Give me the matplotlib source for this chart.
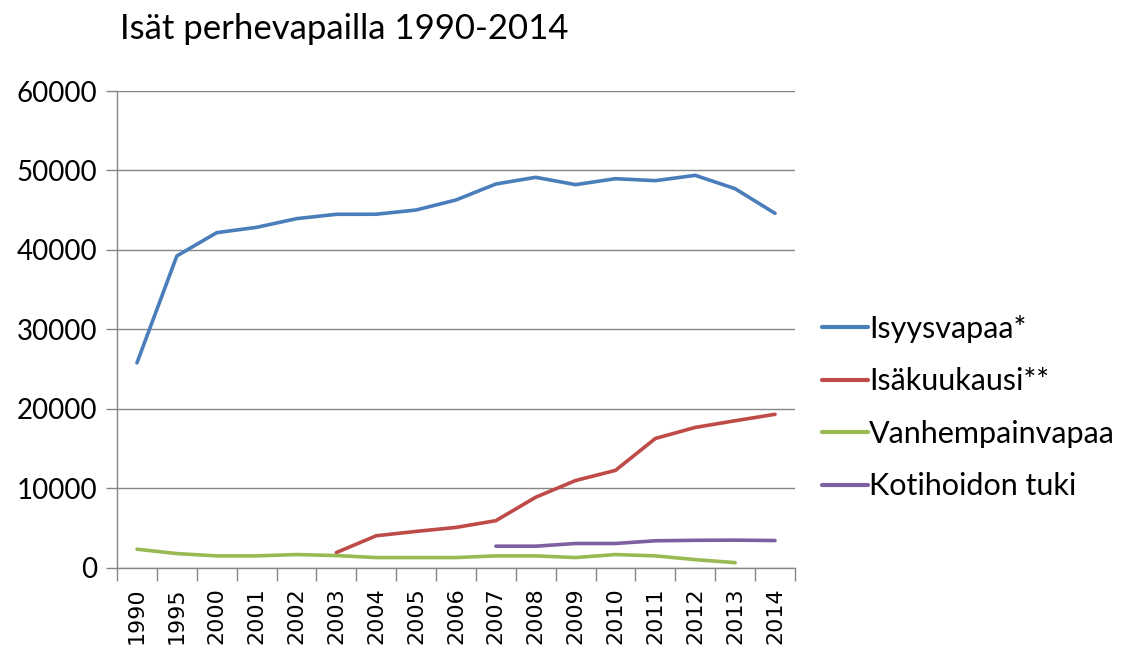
import matplotlib

matplotlib.use("Agg")
import matplotlib.pyplot as plt
import numpy as np

plt.rcParams.update({"font.family": ["Lato", "DejaVu Sans"]})

YEARS = ["1990", "1995", "2000", "2001", "2002", "2003", "2004", "2005", "2006",
         "2007", "2008", "2009", "2010", "2011", "2012", "2013", "2014"]

# Readings; None where a series has no value.
ISYYSVAPAA = [25800, 39250, 42180, 42850, 43940, 44490, 44500, 45030, 46290,
              48300, 49140, 48220, 48970, 48720, 49390, 47710, 44610]
ISAKUUKAUSI = [None, None, None, None, None, 1940, 4050, 4600, 5100,
               5950, 8900, 11000, 12280, 16290, 17680, 18520, 19330]
VANHEMPAINVAPAA = [2360, 1810, 1520, 1520, 1690, 1560, 1310, 1310, 1310,
                   1520, 1520, 1310, 1690, 1520, 1050, 670, None]
KOTIHOIDON_TUKI = [None, None, None, None, None, None, None, None, None,
                   2740, 2740, 3080, 3080, 3420, 3480, 3500, 3450]

SERIES = [
    ("Isyysvapaa*", ISYYSVAPAA, "#4A7EBB"),
    ("Isäkuukausi**", ISAKUUKAUSI, "#BE4B48"),
    ("Vanhempainvapaa", VANHEMPAINVAPAA, "#98B954"),
    ("Kotihoidon tuki", KOTIHOIDON_TUKI, "#7D60A0"),
]

GRID = "#868686"

fig = plt.figure(figsize=(11.35, 6.5), dpi=100)
ax = fig.add_axes([0.1031, 0.1262, 0.7004 - 0.1031, 0.86 - 0.1262])

x = np.arange(len(YEARS))
for label, vals, colour in SERIES:
    y = np.array([np.nan if v is None else v for v in vals], dtype=float)
    ax.plot(x, y, color=colour, linewidth=2.6, label=label,
            solid_capstyle="round")

ax.set_xlim(-0.5, len(YEARS) - 0.5)
ax.set_ylim(0, 60000)
ax.set_yticks(range(0, 60001, 10000))
ax.grid(axis="y", color=GRID, linewidth=1)
ax.set_axisbelow(True)

ax.set_xticks(x)
ax.set_xticklabels(YEARS, rotation=90, fontsize=16, family="DejaVu Sans")
ax.set_xticks(np.arange(-0.5, len(YEARS), 1.0), minor=True)
ax.tick_params(axis="x", which="major", length=0, pad=14)
ax.tick_params(axis="x", which="minor", length=9, color=GRID, width=1)
ax.tick_params(axis="y", length=8, color=GRID, width=1, labelsize=20, pad=6)

for side in ("top", "right"):
    ax.spines[side].set_visible(False)
for side in ("left", "bottom"):
    ax.spines[side].set_color(GRID)
    ax.spines[side].set_linewidth(1)

fig.text(0.106, 0.955, "Isät perhevapailla 1990-2014", fontsize=25,
         va="center", ha="left")

leg = fig.legend(loc="center left", bbox_to_anchor=(0.7242, 0.373),
                 frameon=False, fontsize=22, handlelength=1.5,
                 handletextpad=0.05, labelspacing=0.8,
                 borderpad=0, borderaxespad=0)
for line in leg.get_lines():
    line.set_linewidth(3)

fig.savefig("out.png")
